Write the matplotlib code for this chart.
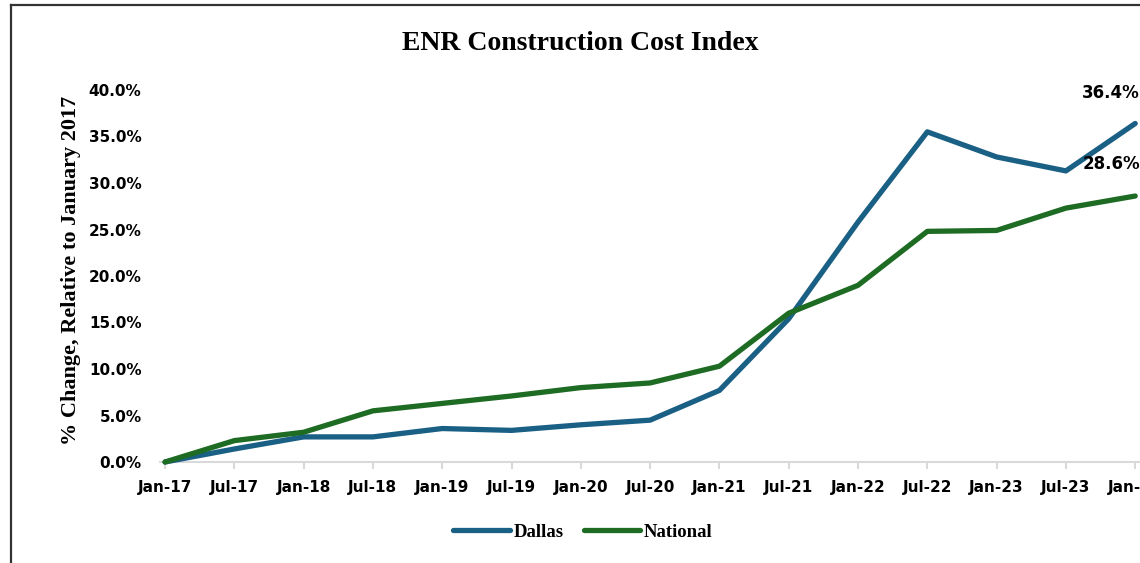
import matplotlib
matplotlib.use("Agg")
import matplotlib.pyplot as plt
from matplotlib.lines import Line2D
from matplotlib.ticker import FuncFormatter

# data (% change relative to January 2017)
periods = ["Jan-17", "Jul-17", "Jan-18", "Jul-18", "Jan-19", "Jul-19", "Jan-20", "Jul-20",
           "Jan-21", "Jul-21", "Jan-22", "Jul-22", "Jan-23", "Jul-23", "Jan-24"]
dallas   = [0.0, 1.4, 2.7, 2.7, 3.6, 3.4, 4.0, 4.5, 7.7, 15.4, 25.8, 35.5, 32.8, 31.3, 36.4]
national = [0.0, 2.3, 3.2, 5.5, 6.3, 7.1, 8.0, 8.5, 10.3, 16.0, 19.0, 24.8, 24.9, 27.3, 28.6]

BLUE  = "#1A5F84"
GREEN = "#1E6B24"
SERIF = "Liberation Serif"

W, H = 1140, 563
fig = plt.figure(figsize=(W / 100, H / 100), dpi=100)
ax = fig.add_axes([159.5 / W, 101 / H, 996.5 / W, 372 / H])

x = list(range(len(periods)))
ax.plot(x, dallas, color=BLUE, lw=3.8, solid_capstyle="round", solid_joinstyle="round",
        label="Dallas", clip_on=False, zorder=3)
ax.plot(x, national, color=GREEN, lw=3.8, solid_capstyle="round", solid_joinstyle="round",
        label="National", clip_on=False, zorder=3)

ax.set_xlim(-0.08, 14.3)
ax.set_ylim(0, 40)
ax.set_yticks(range(0, 41, 5))
ax.yaxis.set_major_formatter(FuncFormatter(lambda v, _: f"{v:.1f}%"))
ax.set_xticks(x)
ax.set_xticklabels(periods)

for s in ["top", "right", "left"]:
    ax.spines[s].set_visible(False)
ax.spines["bottom"].set_color("#D9D9D9")
ax.spines["bottom"].set_linewidth(1.5)
ax.tick_params(axis="x", direction="out", length=5, width=1.5, color="#D9D9D9", pad=8)
ax.tick_params(axis="y", length=0, pad=13)
for lab in ax.get_xticklabels() + ax.get_yticklabels():
    lab.set_fontweight("bold")
    lab.set_fontsize(11)
    lab.set_family("DejaVu Sans")

# end labels
ax.annotate(f"{dallas[-1]:.1f}%", xy=(x[-1], dallas[-1]), xytext=(-53, 30),
            textcoords="offset pixels", ha="left", va="center",
            fontsize=12, fontweight="bold", annotation_clip=False)
ax.annotate(f"{national[-1]:.1f}%", xy=(x[-1], national[-1]), xytext=(-53, 32),
            textcoords="offset pixels", ha="left", va="center",
            fontsize=12, fontweight="bold", annotation_clip=False)

fig.text(580 / W, 1 - 43 / H, "ENR Construction Cost Index", ha="center", va="center",
         family=SERIF, fontsize=20, fontweight="bold")
fig.text(71 / W, 1 - 270 / H, "% Change, Relative to January 2017", rotation=90,
         ha="center", va="center", family=SERIF, fontsize=16, fontweight="bold")

fig.legend(loc="center", bbox_to_anchor=(583 / W, 1 - 532 / H), ncol=2, frameon=False,
           prop={"family": SERIF, "weight": "bold", "size": 13.5},
           handlelength=3.0, handletextpad=0.2, columnspacing=1.1)

# outer frame (top and left edges visible)
fig.add_artist(Line2D([11 / W, 11 / W], [0, 1 - 5 / H], transform=fig.transFigure,
                      color="#333333", lw=1.6))
fig.add_artist(Line2D([11 / W, 1], [1 - 5 / H, 1 - 5 / H], transform=fig.transFigure,
                      color="#333333", lw=1.6))

fig.savefig("out.png", dpi=100)
